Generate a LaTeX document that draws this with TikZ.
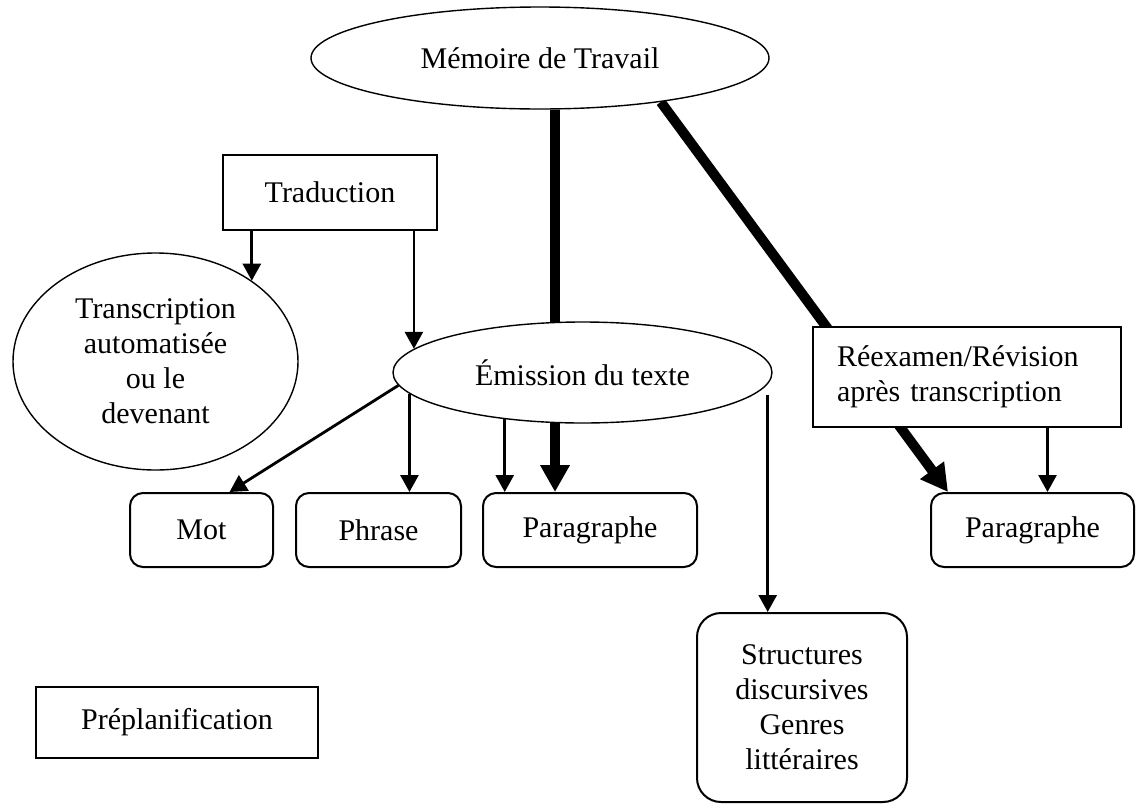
\documentclass[tikz,border=0pt]{standalone}
\usepackage{fontspec}
\setmainfont{Liberation Serif}
\usetikzlibrary{calc,shapes.geometric,arrows.meta,backgrounds}

\begin{document}
\begin{tikzpicture}[x=0.5pt,y=-0.5pt,
 every node/.style={font=\fontsize{15}{17.5}\selectfont,align=center,inner sep=0pt},
 oval/.style={ellipse,draw,line width=0.7pt,fill=white},
 plainbox/.style={rectangle,draw,line width=1pt,fill=white},
 roundbox/.style={rectangle,draw,line width=1pt,rounded corners=6.5pt},
 arr/.style={line width=1.4pt,-{Triangle[length=8.5pt,width=9pt]}},
 bigarr/.style={line width=5pt,-{Triangle[length=13.5pt,width=14pt]}}]

\useasboundingbox (0,0) rectangle (1136,804);

% ellipses
\node[oval,minimum width=229pt,minimum height=51pt] (mem) at (540,58) {Mémoire de Travail};
\node[oval,minimum width=142.5pt,minimum height=108.5pt] (trans) at (155.5,361.5)
 {Transcription\\automatisée\\ou le\\devenant};
\node[oval,minimum width=189.5pt,minimum height=50.5pt] (emis) at (582.5,372.5) {Émission du texte};

% boxes
\node[plainbox,minimum width=107pt,minimum height=37.5pt] (trad) at (330,192.5) {Traduction};
\node[plainbox,minimum width=154pt,minimum height=50pt,text width=130pt,inner xsep=12pt,align=left]
 (reex) at (967,377) {Réexamen/Révision\\après transcription};
\node[plainbox,minimum width=141pt,minimum height=35.5pt] (prep) at (177,722.5) {Préplanification};

\node[roundbox,minimum width=71.5pt,minimum height=37pt] (mot) at (201.5,530) {Mot};
\node[roundbox,minimum width=82.5pt,minimum height=37pt] (phr) at (378.5,530) {Phrase};
\node[roundbox,minimum width=107pt,minimum height=37pt] (par1) at (590,530) {Paragraphe};
\node[roundbox,minimum width=101.5pt,minimum height=37pt] (par2) at (1032.5,530) {Paragraphe};
\node[roundbox,rounded corners=12pt,minimum width=105pt,minimum height=94.5pt] (struct) at (802,707.5)
 {Structures\\discursives\\Genres\\littéraires};

% thick links, behind the ellipses
\begin{scope}[on background layer]
 \coordinate (m0) at ($(mem.south)+(15,0)$);
 \draw[bigarr] (m0) -- (m0 |- par1.north);
 \draw[bigarr] (mem.-20) -- ($(par2.north west)+(18,0)$);
\end{scope}

% thin links
\draw[arr] (trans.40 |- trad.south) -- (trans.40);
\draw[arr] (emis.172.4 |- trad.south) -- (emis.172.4);
\draw[arr] (emis.184) -- ($(mot.north)+(28,0)$);
\draw[arr] (emis.187.6) -- (emis.187.6 |- phr.north);
\draw[arr] (emis.211.9) -- (emis.211.9 |- par1.north);
\coordinate (e0) at ($(emis.east)+(-5,22)$);
\draw[arr] (e0) -- (e0 |- struct.north);
\coordinate (r0) at ($(par2.north)+(15,0)$);
\draw[arr] (r0 |- reex.south) -- (r0);

\end{tikzpicture}
\end{document}
